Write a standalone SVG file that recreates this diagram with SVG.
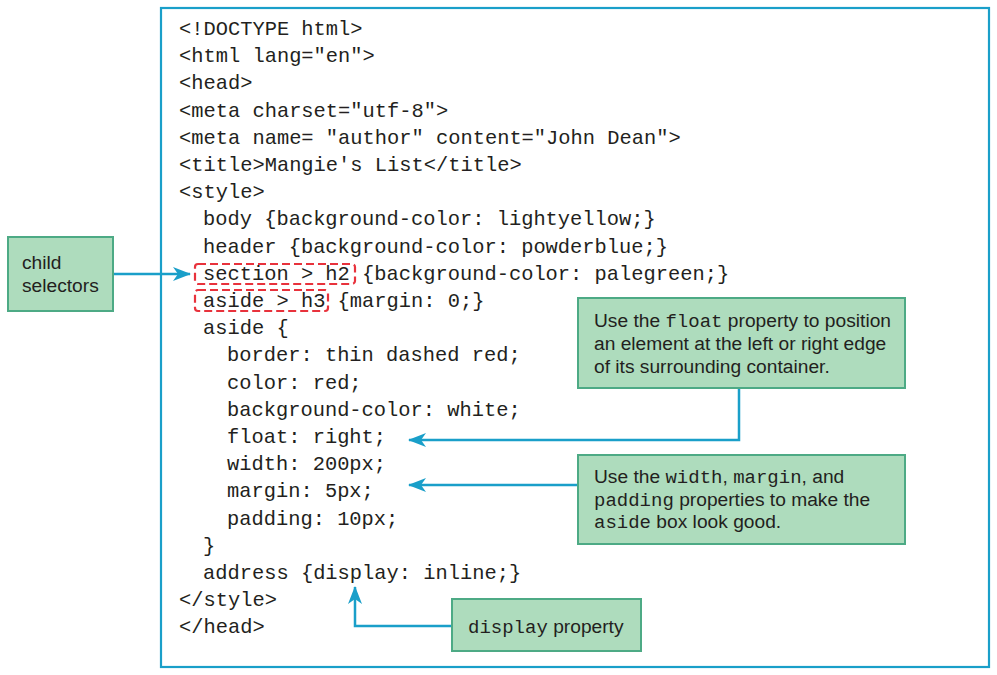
<svg xmlns="http://www.w3.org/2000/svg" width="997" height="675" viewBox="0 0 997 675">
<defs>
<style>
.code{font-family:"Liberation Mono","Courier New",monospace;font-size:20.4px;fill:#231f20}
.note{fill:#aedcbd;stroke:#4daa85;stroke-width:2}
.nt{font-family:"Liberation Sans",Arial,sans-serif;font-size:19.2px;fill:#231f20}
.m{font-family:"Liberation Mono","Courier New",monospace;font-size:19px}
.con{fill:none;stroke:#1a9fc9;stroke-width:2.5}
.sel{fill:none;stroke:#e8323c;stroke-width:2.2;stroke-dasharray:8 4}
</style>
<marker id="ah" viewBox="0 0 18 14" refX="17" refY="7" markerWidth="18" markerHeight="14" markerUnits="userSpaceOnUse" orient="auto">
<path d="M0,0 L18,7 L0,14 L5,7 z" fill="#1a9fc9"/>
</marker>
</defs>
<rect width="997" height="675" fill="#ffffff"/>
<g id="code">
<rect x="161" y="8" width="828" height="659" fill="#ffffff" stroke="#1a9fc9" stroke-width="2.2"/>
<text class="code" x="179" y="35">&lt;!DOCTYPE html&gt;</text>
<text class="code" x="179" y="62.2">&lt;html lang="en"&gt;</text>
<text class="code" x="179" y="89.4">&lt;head&gt;</text>
<text class="code" x="179" y="116.6">&lt;meta charset="utf-8"&gt;</text>
<text class="code" x="179" y="143.8">&lt;meta name= "author" content="John Dean"&gt;</text>
<text class="code" x="179" y="171">&lt;title&gt;Mangie's List&lt;/title&gt;</text>
<text class="code" x="179" y="198.2">&lt;style&gt;</text>
<text class="code" x="203" y="225.4">body {background-color: lightyellow;}</text>
<text class="code" x="203" y="252.6">header {background-color: powderblue;}</text>
<text class="code" x="203" y="279.8">section &gt; h2 {background-color: palegreen;}</text>
<text class="code" x="203" y="307">aside &gt; h3 {margin: 0;}</text>
<text class="code" x="203" y="334.2">aside {</text>
<text class="code" x="227" y="361.4">border: thin dashed red;</text>
<text class="code" x="227" y="388.6">color: red;</text>
<text class="code" x="227" y="415.8">background-color: white;</text>
<text class="code" x="227" y="443">float: right;</text>
<text class="code" x="227" y="470.2">width: 200px;</text>
<text class="code" x="227" y="497.4">margin: 5px;</text>
<text class="code" x="227" y="524.6">padding: 10px;</text>
<text class="code" x="203" y="551.8">}</text>
<text class="code" x="203" y="579">address {display: inline;}</text>
<text class="code" x="179" y="606.2">&lt;/style&gt;</text>
<text class="code" x="179" y="633.4">&lt;/head&gt;</text>
<rect class="sel" x="195" y="264" width="160" height="20" rx="3"/>
<rect class="sel" x="195" y="290" width="133" height="21" rx="3"/>
</g>
<g id="connectors">
<path class="con" d="M113,274 L190,274" marker-end="url(#ah)"/>
<path class="con" d="M739,388 L739,440 L409,440" marker-end="url(#ah)"/>
<path class="con" d="M578,485 L409,485" marker-end="url(#ah)"/>
<path class="con" d="M452,626 L355,626 L355,587" marker-end="url(#ah)"/>
</g>
<g id="child-selectors">
<rect class="note" x="8" y="237" width="105" height="74"/>
<text class="nt" x="22" y="269">child</text>
<text class="nt" x="22" y="292">selectors</text>
</g>
<g id="float-note">
<rect class="note" x="578" y="298" width="327" height="90"/>
<text class="nt" x="594" y="327">Use the <tspan class="m">float</tspan> property to position</text>
<text class="nt" x="594" y="350">an element at the left or right edge</text>
<text class="nt" x="594" y="373">of its surrounding container.</text>
</g>
<g id="width-note">
<rect class="note" x="578" y="455" width="327" height="89"/>
<text class="nt" x="594" y="483">Use the <tspan class="m">width</tspan>, <tspan class="m">margin</tspan>, and</text>
<text class="nt" x="594" y="506"><tspan class="m">padding</tspan> properties to make the</text>
<text class="nt" x="594" y="528"><tspan class="m">aside</tspan> box look good.</text>
</g>
<g id="display-note">
<rect class="note" x="452" y="599" width="189" height="52"/>
<text class="nt" x="468" y="633"><tspan class="m">display</tspan> property</text>
</g>
</svg>
